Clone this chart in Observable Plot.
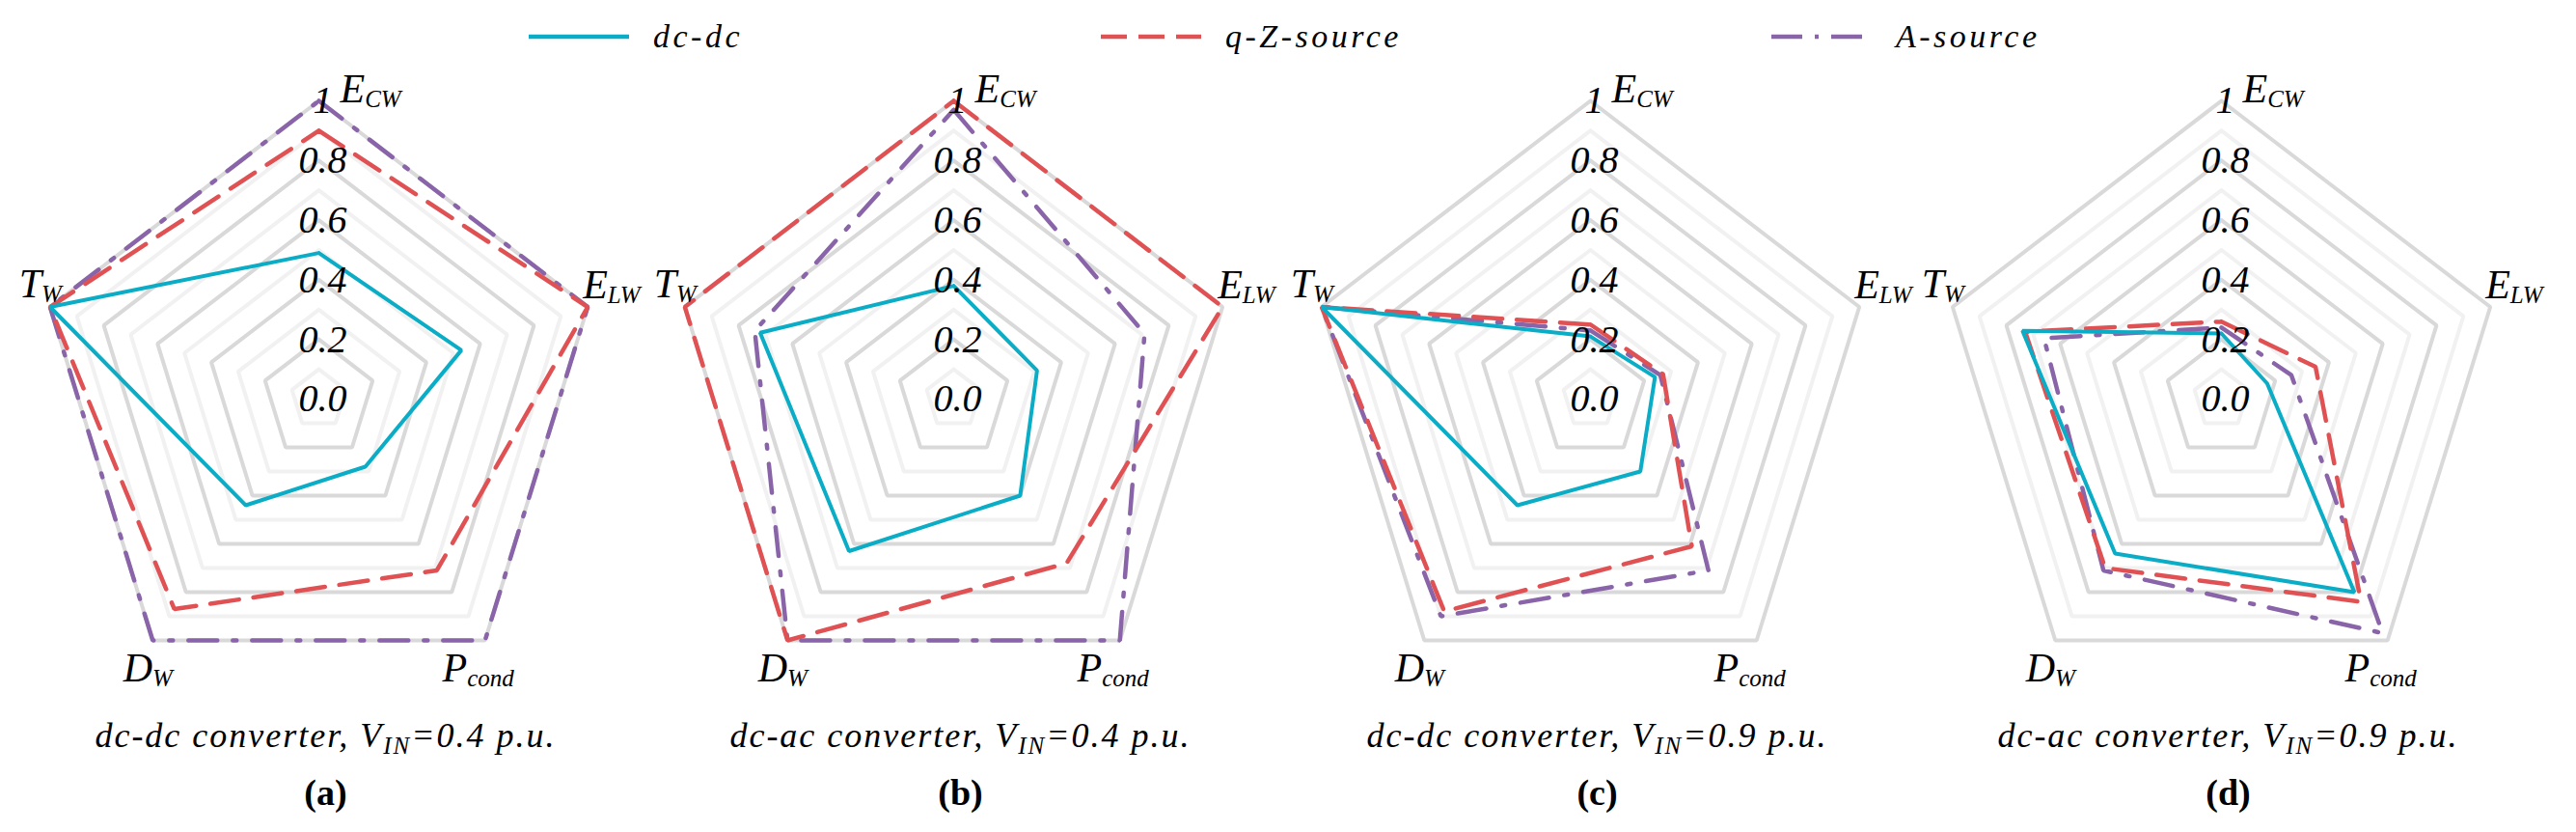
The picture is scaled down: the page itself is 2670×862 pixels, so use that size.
<!DOCTYPE html>
<html><head><meta charset="utf-8">
<script src="https://cdn.jsdelivr.net/npm/d3@7"></script>
<script src="https://cdn.jsdelivr.net/npm/@observablehq/plot@0.6"></script>
<style>
html,body{margin:0;padding:0;background:#fff;}
#legend{position:relative;width:2670px;height:75px;font-family:"Liberation Serif","Times New Roman",serif;font-style:italic;font-size:34px;letter-spacing:3.5px;color:#000;}
.item{position:absolute;top:0;height:75px;display:flex;align-items:center;}
.item svg{display:block;margin-right:24px;}
#chart svg{display:block;}
</style></head><body>
<div id="legend"></div>
<div id="chart"></div>
<script>
// ---------- data ----------
const axisNames = ["E_{CW}", "E_{LW}", "P_{cond}", "D_{W}", "T_{W}"]; // clockwise from top
const panelLetters = ["(a)", "(b)", "(c)", "(d)"];
const panelCaptions = [
  "dc-dc converter, V_{IN}=0.4 p.u.",
  "dc-ac converter, V_{IN}=0.4 p.u.",
  "dc-dc converter, V_{IN}=0.9 p.u.",
  "dc-ac converter, V_{IN}=0.9 p.u."
];
const seriesNames = ["dc-dc", "q-Z-source", "A-source"];
const tickLevels = [0, 0.2, 0.4, 0.6, 0.8, 1];
const tickText = ["0.0", "0.2", "0.4", "0.6", "0.8", "1"];
const ringLevels = [0.1, 0.2, 0.3, 0.4, 0.5, 0.6, 0.7, 0.8, 0.9, 1.0];
// values per panel, axis order: E_CW, E_LW, P_cond, D_W, T_W
const dcdcValues = [
  [0.49, 0.53, 0.28, 0.44, 1.00],
  [0.38, 0.31, 0.40, 0.63, 0.72],
  [0.21, 0.24, 0.30, 0.44, 1.00],
  [0.22, 0.17, 0.80, 0.64, 0.74]
];
const qzValues = [
  [0.90, 1.00, 0.71, 0.87, 1.00],
  [1.00, 1.00, 0.68, 1.00, 1.00],
  [0.25, 0.27, 0.61, 0.88, 1.00],
  [0.26, 0.35, 0.84, 0.70, 0.73]
];
const aSourceValues = [
  [1.00, 1.00, 1.00, 1.00, 1.00],
  [0.97, 0.71, 1.00, 1.00, 0.74],
  [0.23, 0.26, 0.71, 0.90, 1.00],
  [0.24, 0.26, 0.97, 0.71, 0.66]
];

// ---------- styles / layout ----------
const seriesColors = ["#0BADC6", "#E05154", "#8A64A9"];
const seriesDash = [null, "30,15", "30,16,4,16"];
const legendDash = [null, "27,12", "32,13,4,13"];
const legendLeft = [547, 1140, 1835];
const W = 2670, H = 787;
const centersPx = [330, 988, 1648, 2302];
const Rx = 293, Ry = 309, cyPx = 338;
const font = '"Liberation Serif","Times New Roman",serif';

// ---------- legend (HTML) ----------
const legend = document.getElementById("legend");
seriesNames.forEach((name, i) => {
  const it = document.createElement("div");
  it.className = "item";
  it.style.left = legendLeft[i] + "px";
  it.innerHTML = `<svg width="106" height="12"><line x1="1" y1="6" x2="105" y2="6" stroke="${seriesColors[i]}" stroke-width="4.5" ${legendDash[i] ? `stroke-dasharray="${legendDash[i]}"` : ""} stroke-linecap="butt"/></svg><span>${name}</span>`;
  legend.appendChild(it);
});

// ---------- geometry helpers ----------
const ang = k => k * 2 * Math.PI / 5;
const px = (p, k, r) => centersPx[p] / Rx + r * Math.sin(ang(k));
const py = (k, r) => r * Math.cos(ang(k));

const rings = [];
centersPx.forEach((c, p) => ringLevels.forEach((lv, li) => {
  for (let k = 0; k <= 5; k++) rings.push({key: p + "-" + li, dark: li % 2 === 1, x: px(p, k % 5, lv), y: py(k % 5, lv)});
}));

const allSeries = [dcdcValues, qzValues, aSourceValues];
const seriesPts = allSeries.map((vals, s) => {
  const out = [];
  vals.forEach((row, p) => {
    for (let k = 0; k <= 5; k++) out.push({key: s + "-" + p, x: px(p, k % 5, row[k % 5]), y: py(k % 5, row[k % 5])});
  });
  return out;
});

const ticks = [];
centersPx.forEach((c, p) => tickLevels.forEach((lv, i) => ticks.push({x: px(p, 0, 0), y: lv, t: tickText[i]})));

const catPts = axisNames.map((n, k) => centersPx.map((c, p) => ({x: px(p, k, 1), y: py(k, 1), t: n})));
const capPts = centersPx.map((c, p) => ({x: px(p, 0, 0), y: 0, cap: panelCaptions[p], let: panelLetters[p]}));

const catOpts = [
  {textAnchor: "start", dx: 22, dy: 1},
  {textAnchor: "start", dx: -5, dy: -9},
  {textAnchor: "middle", dx: -7, dy: 43},
  {textAnchor: "middle", dx: -5, dy: 43},
  {textAnchor: "end", dx: 12, dy: -10}
];

const marks = [
  Plot.line(rings.filter(d => !d.dark), {x: "x", y: "y", z: "key", stroke: "#F1F1F1", strokeWidth: 4, strokeLinejoin: "miter"}),
  Plot.line(rings.filter(d => d.dark), {x: "x", y: "y", z: "key", stroke: "#D9D9D9", strokeWidth: 4, strokeLinejoin: "miter"})
];
[2, 1, 0].forEach(s => {
  marks.push(Plot.line(seriesPts[s], {x: "x", y: "y", z: "key", stroke: seriesColors[s], strokeWidth: s === 0 ? 4 : 4.5,
    strokeDasharray: seriesDash[s] || undefined, strokeLinejoin: "miter"}));
});
marks.push(Plot.text(ticks, {x: "x", y: "y", text: "t", fontSize: 40, fontStyle: "italic", dx: 4, lineAnchor: "middle", fill: "#000"}));
catOpts.forEach((o, k) => {
  marks.push(Plot.text(catPts[k], {x: "x", y: "y", text: "t", fontSize: 42, fontStyle: "italic", lineAnchor: "bottom", fill: "#000", ...o}));
});
marks.push(Plot.text(capPts, {x: "x", y: "y", text: "cap", fontSize: 36, fontStyle: "italic", lineAnchor: "bottom", dx: 7, dy: 360, fill: "#000"}));
marks.push(Plot.text(capPts, {x: "x", y: "y", text: "let", fontSize: 38, fontWeight: "bold", lineAnchor: "bottom", dx: 7, dy: 420, fill: "#000"}));

const svg = Plot.plot({
  width: W, height: H,
  margin: 0,
  style: {fontFamily: font, background: "#fff", overflow: "visible"},
  x: {domain: [0, W / Rx], range: [0, W], axis: null},
  y: {domain: [-(H - cyPx) / Ry, cyPx / Ry], range: [H, 0], axis: null},
  marks
});

// subscripts (post-process real text into tspans)
const ns = "http://www.w3.org/2000/svg";
function subscript(el, size, shift) {
  const s = el.textContent;
  const m = s.match(/^(.*?)_\{(.*?)\}(.*)$/);
  if (!m) return;
  el.textContent = m[1];
  const t1 = document.createElementNS(ns, "tspan");
  t1.setAttribute("font-size", size);
  t1.setAttribute("dy", shift);
  t1.textContent = m[2];
  el.appendChild(t1);
  if (m[3]) {
    const t2 = document.createElementNS(ns, "tspan");
    t2.setAttribute("dy", -shift);
    t2.textContent = m[3];
    el.appendChild(t2);
  }
}
svg.querySelectorAll("text").forEach(el => {
  if (!el.textContent.includes("_{")) return;
  let g = el.parentNode, fs = null;
  while (g && g !== svg && !fs) { fs = g.getAttribute && g.getAttribute("font-size"); g = g.parentNode; }
  if (fs === "36") {
    el.setAttribute("letter-spacing", "2px");
    subscript(el, 25, 7);
  } else {
    subscript(el, 25, 5);
  }
});
document.getElementById("chart").appendChild(svg);
</script>
</body></html>
